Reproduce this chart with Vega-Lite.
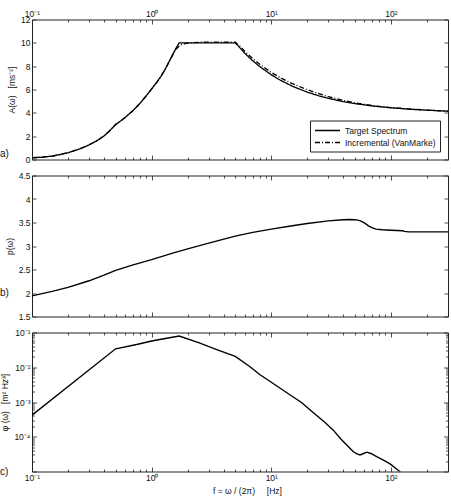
{
  "$schema": "https://vega.github.io/schema/vega-lite/v6.json",
  "padding": {"left": 0, "top": 9.5, "right": 3, "bottom": 1},
  "spacing": 16,
  "bounds": "flush",
  "config": {
    "view": {"stroke": null},
    "font": "Liberation Sans",
    "axis": {
      "labelFont": "Liberation Sans",
      "labelFontSize": 8.5,
      "labelColor": "#111",
      "titleFont": "Liberation Sans",
      "titleFontSize": 8.5,
      "titleFontWeight": "normal",
      "titleColor": "#111",
      "domainColor": "#222",
      "domainWidth": 1,
      "tickColor": "#222",
      "tickWidth": 0.8,
      "grid": false,
      "labelFlush": false,
      "titlePadding": 4
    }
  },
  "resolve": {
    "scale": {"strokeDash": "independent"},
    "legend": {"strokeDash": "independent"}
  },
  "datasets": {
    "accel": [
      {"f": 0.1, "A": 0.15, "series": "Target Spectrum"},
      {"f": 0.12, "A": 0.19, "series": "Target Spectrum"},
      {"f": 0.15, "A": 0.3, "series": "Target Spectrum"},
      {"f": 0.2, "A": 0.58, "series": "Target Spectrum"},
      {"f": 0.25, "A": 0.9, "series": "Target Spectrum"},
      {"f": 0.3, "A": 1.25, "series": "Target Spectrum"},
      {"f": 0.35, "A": 1.62, "series": "Target Spectrum"},
      {"f": 0.4, "A": 2.02, "series": "Target Spectrum"},
      {"f": 0.45, "A": 2.5, "series": "Target Spectrum"},
      {"f": 0.5, "A": 3.0, "series": "Target Spectrum"},
      {"f": 0.55, "A": 3.3, "series": "Target Spectrum"},
      {"f": 0.6, "A": 3.6, "series": "Target Spectrum"},
      {"f": 0.7, "A": 4.2, "series": "Target Spectrum"},
      {"f": 0.8, "A": 4.82, "series": "Target Spectrum"},
      {"f": 0.9, "A": 5.45, "series": "Target Spectrum"},
      {"f": 1.0, "A": 6.05, "series": "Target Spectrum"},
      {"f": 1.1, "A": 6.6, "series": "Target Spectrum"},
      {"f": 1.2, "A": 7.15, "series": "Target Spectrum"},
      {"f": 1.3, "A": 7.75, "series": "Target Spectrum"},
      {"f": 1.4, "A": 8.4, "series": "Target Spectrum"},
      {"f": 1.5, "A": 9.0, "series": "Target Spectrum"},
      {"f": 1.6, "A": 9.55, "series": "Target Spectrum"},
      {"f": 1.7, "A": 10.0, "series": "Target Spectrum"},
      {"f": 5.0, "A": 10.0, "series": "Target Spectrum"},
      {"f": 5.5, "A": 9.55, "series": "Target Spectrum"},
      {"f": 6, "A": 9.11, "series": "Target Spectrum"},
      {"f": 7, "A": 8.46, "series": "Target Spectrum"},
      {"f": 8, "A": 7.97, "series": "Target Spectrum"},
      {"f": 10, "A": 7.26, "series": "Target Spectrum"},
      {"f": 12, "A": 6.78, "series": "Target Spectrum"},
      {"f": 15, "A": 6.28, "series": "Target Spectrum"},
      {"f": 20, "A": 5.77, "series": "Target Spectrum"},
      {"f": 25, "A": 5.46, "series": "Target Spectrum"},
      {"f": 30, "A": 5.24, "series": "Target Spectrum"},
      {"f": 40, "A": 4.96, "series": "Target Spectrum"},
      {"f": 50, "A": 4.79, "series": "Target Spectrum"},
      {"f": 70, "A": 4.59, "series": "Target Spectrum"},
      {"f": 100, "A": 4.43, "series": "Target Spectrum"},
      {"f": 150, "A": 4.3, "series": "Target Spectrum"},
      {"f": 200, "A": 4.23, "series": "Target Spectrum"},
      {"f": 300, "A": 4.14, "series": "Target Spectrum"},
      {"f": 0.1, "A": 0.15, "series": "Incremental (VanMarke)"},
      {"f": 0.12, "A": 0.19, "series": "Incremental (VanMarke)"},
      {"f": 0.15, "A": 0.3, "series": "Incremental (VanMarke)"},
      {"f": 0.2, "A": 0.58, "series": "Incremental (VanMarke)"},
      {"f": 0.25, "A": 0.9, "series": "Incremental (VanMarke)"},
      {"f": 0.3, "A": 1.25, "series": "Incremental (VanMarke)"},
      {"f": 0.35, "A": 1.62, "series": "Incremental (VanMarke)"},
      {"f": 0.4, "A": 2.02, "series": "Incremental (VanMarke)"},
      {"f": 0.45, "A": 2.5, "series": "Incremental (VanMarke)"},
      {"f": 0.5, "A": 3.0, "series": "Incremental (VanMarke)"},
      {"f": 0.55, "A": 3.3, "series": "Incremental (VanMarke)"},
      {"f": 0.6, "A": 3.6, "series": "Incremental (VanMarke)"},
      {"f": 0.7, "A": 4.2, "series": "Incremental (VanMarke)"},
      {"f": 0.8, "A": 4.82, "series": "Incremental (VanMarke)"},
      {"f": 0.9, "A": 5.45, "series": "Incremental (VanMarke)"},
      {"f": 1.0, "A": 6.05, "series": "Incremental (VanMarke)"},
      {"f": 1.1, "A": 6.6, "series": "Incremental (VanMarke)"},
      {"f": 1.2, "A": 7.15, "series": "Incremental (VanMarke)"},
      {"f": 1.3, "A": 7.75, "series": "Incremental (VanMarke)"},
      {"f": 1.4, "A": 8.38, "series": "Incremental (VanMarke)"},
      {"f": 1.5, "A": 8.95, "series": "Incremental (VanMarke)"},
      {"f": 1.6, "A": 9.45, "series": "Incremental (VanMarke)"},
      {"f": 1.7, "A": 9.72, "series": "Incremental (VanMarke)"},
      {"f": 1.8, "A": 9.88, "series": "Incremental (VanMarke)"},
      {"f": 2.0, "A": 9.98, "series": "Incremental (VanMarke)"},
      {"f": 2.5, "A": 10.05, "series": "Incremental (VanMarke)"},
      {"f": 3.0, "A": 10.06, "series": "Incremental (VanMarke)"},
      {"f": 4.0, "A": 10.05, "series": "Incremental (VanMarke)"},
      {"f": 5.0, "A": 10.05, "series": "Incremental (VanMarke)"},
      {"f": 5.5, "A": 9.7, "series": "Incremental (VanMarke)"},
      {"f": 6, "A": 9.28, "series": "Incremental (VanMarke)"},
      {"f": 7, "A": 8.65, "series": "Incremental (VanMarke)"},
      {"f": 8, "A": 8.17, "series": "Incremental (VanMarke)"},
      {"f": 10, "A": 7.46, "series": "Incremental (VanMarke)"},
      {"f": 12, "A": 6.99, "series": "Incremental (VanMarke)"},
      {"f": 15, "A": 6.5, "series": "Incremental (VanMarke)"},
      {"f": 20, "A": 5.98, "series": "Incremental (VanMarke)"},
      {"f": 25, "A": 5.64, "series": "Incremental (VanMarke)"},
      {"f": 30, "A": 5.38, "series": "Incremental (VanMarke)"},
      {"f": 40, "A": 5.06, "series": "Incremental (VanMarke)"},
      {"f": 50, "A": 4.86, "series": "Incremental (VanMarke)"},
      {"f": 70, "A": 4.62, "series": "Incremental (VanMarke)"},
      {"f": 100, "A": 4.45, "series": "Incremental (VanMarke)"},
      {"f": 150, "A": 4.31, "series": "Incremental (VanMarke)"},
      {"f": 200, "A": 4.24, "series": "Incremental (VanMarke)"},
      {"f": 300, "A": 4.14, "series": "Incremental (VanMarke)"}
    ],
    "peak": [
      {"f": 0.1, "p": 1.94},
      {"f": 0.15, "p": 2.04},
      {"f": 0.2, "p": 2.12},
      {"f": 0.3, "p": 2.26},
      {"f": 0.4, "p": 2.38},
      {"f": 0.5, "p": 2.48},
      {"f": 0.7, "p": 2.6},
      {"f": 1, "p": 2.71},
      {"f": 1.5, "p": 2.85},
      {"f": 2, "p": 2.94},
      {"f": 3, "p": 3.06},
      {"f": 5, "p": 3.21},
      {"f": 7, "p": 3.29},
      {"f": 10, "p": 3.36},
      {"f": 15, "p": 3.43},
      {"f": 20, "p": 3.48},
      {"f": 30, "p": 3.535},
      {"f": 40, "p": 3.56},
      {"f": 45, "p": 3.565},
      {"f": 50, "p": 3.56},
      {"f": 55, "p": 3.54},
      {"f": 60, "p": 3.49},
      {"f": 65, "p": 3.43},
      {"f": 70, "p": 3.385},
      {"f": 75, "p": 3.36},
      {"f": 85, "p": 3.345},
      {"f": 100, "p": 3.335},
      {"f": 125, "p": 3.325},
      {"f": 130, "p": 3.31},
      {"f": 140, "p": 3.3},
      {"f": 300, "p": 3.3}
    ],
    "psd": [
      {"f": 0.1, "phi": 0.00042},
      {"f": 0.5, "phi": 0.034},
      {"f": 0.75, "phi": 0.045},
      {"f": 1.0, "phi": 0.057},
      {"f": 1.3, "phi": 0.067},
      {"f": 1.7, "phi": 0.079},
      {"f": 2.5, "phi": 0.05},
      {"f": 3.5, "phi": 0.032},
      {"f": 5, "phi": 0.0205},
      {"f": 6.6, "phi": 0.0105},
      {"f": 8, "phi": 0.0062},
      {"f": 10, "phi": 0.0037},
      {"f": 14, "phi": 0.0017},
      {"f": 18, "phi": 0.00095},
      {"f": 22.5, "phi": 0.00049},
      {"f": 28, "phi": 0.00026},
      {"f": 33, "phi": 0.000155},
      {"f": 38, "phi": 0.000088},
      {"f": 42.7, "phi": 0.000058},
      {"f": 48.6, "phi": 0.000037},
      {"f": 52, "phi": 0.000032},
      {"f": 55.2, "phi": 0.00003},
      {"f": 59, "phi": 0.000033},
      {"f": 62.8, "phi": 0.000036},
      {"f": 68, "phi": 0.000033},
      {"f": 76, "phi": 0.000027},
      {"f": 85, "phi": 0.000022},
      {"f": 98.5, "phi": 0.0000165},
      {"f": 115.6, "phi": 0.0000107},
      {"f": 125, "phi": 0.0000085}
    ]
  },
  "vconcat": [
    {
      "width": 416,
      "height": 140,
      "resolve": {"axis": {"x": "independent", "y": "independent"}},
      "layer": [
        {
          "data": {"name": "accel"},
          "mark": {"type": "line", "color": "black", "strokeWidth": 1.3},
          "encoding": {
            "x": {
              "field": "f", "type": "quantitative",
              "scale": {"type": "log", "domain": [0.1, 300], "nice": false},
              "axis": {
                "orient": "top", "title": null,
                "values": [0.1,0.2,0.3,0.4,0.5,0.6,0.7,0.8,0.9,1,2,3,4,5,6,7,8,9,10,20,30,40,50,60,70,80,90,100,200,300],
                "labelExpr": "datum.value == 0.1 ? '10⁻¹' : datum.value == 1 ? '10⁰' : datum.value == 10 ? '10¹' : datum.value == 100 ? '10²' : ''",
                "tickSize": {"condition": {"test": "indexof([0.1,1,10,100], datum.value) >= 0", "value": -4.5}, "value": -2.5},
                "labelPadding": 5.5
              }
            },
            "y": {
              "field": "A", "type": "quantitative",
              "scale": {"domain": [0, 12], "nice": false},
              "axis": {"orient": "left", "title": "A(ω)\u00a0\u00a0\u00a0[ms⁻²]", "values": [0,2,4,6,8,10,12], "format": "~g", "tickSize": -4, "labelPadding": 6}
            },
            "strokeDash": {
              "field": "series", "type": "nominal",
              "scale": {"domain": ["Target Spectrum", "Incremental (VanMarke)"], "range": [[1, 0], [5, 2, 1, 2]]},
              "legend": {
                "title": null, "orient": "bottom-right", "offset": 8,
                "strokeColor": "#222", "fillColor": "white", "padding": 4,
                "labelFont": "Liberation Sans", "labelFontSize": 8.5, "labelColor": "#111",
                "symbolType": "M-1,0H4", "symbolSize": 100, "symbolStrokeWidth": 1.3,
                "symbolStrokeColor": "black", "rowPadding": 1, "labelOffset": 19
              }
            }
          }
        },
        {
          "data": {"name": "accel"},
          "mark": {"type": "line", "opacity": 0},
          "encoding": {
            "x": {
              "field": "f", "type": "quantitative",
              "scale": {"type": "log", "domain": [0.1, 300], "nice": false},
              "axis": {
                "orient": "bottom", "title": null, "labels": false,
                "values": [0.1,0.2,0.3,0.4,0.5,0.6,0.7,0.8,0.9,1,2,3,4,5,6,7,8,9,10,20,30,40,50,60,70,80,90,100,200,300],
                "tickSize": {"condition": {"test": "indexof([0.1,1,10,100], datum.value) >= 0", "value": -4.5}, "value": -2.5}
              }
            },
            "y": {
              "field": "A", "type": "quantitative",
              "scale": {"domain": [0, 12], "nice": false},
              "axis": {"orient": "right", "title": null, "labels": false, "values": [0,2,4,6,8,10,12], "tickSize": -4}
            }
          }
        },
        {
          "data": {"values": [{"tag": "a)"}]},
          "mark": {"type": "text", "align": "left", "baseline": "middle", "dx": -32, "fontSize": 10, "font": "Liberation Sans", "color": "#111"},
          "encoding": {
            "x": {"datum": 0.1, "axis": null},
            "y": {"datum": 0.5, "axis": null},
            "text": {"field": "tag"}
          }
        }
      ]
    },
    {
      "width": 416,
      "height": 141,
      "resolve": {"axis": {"x": "independent", "y": "independent"}},
      "layer": [
        {
          "data": {"name": "peak"},
          "mark": {"type": "line", "color": "black", "strokeWidth": 1.4},
          "encoding": {
            "x": {
              "field": "f", "type": "quantitative",
              "scale": {"type": "log", "domain": [0.1, 300], "nice": false},
              "axis": {
                "orient": "bottom", "title": null, "labels": false,
                "values": [0.1,0.2,0.3,0.4,0.5,0.6,0.7,0.8,0.9,1,2,3,4,5,6,7,8,9,10,20,30,40,50,60,70,80,90,100,200,300],
                "tickSize": {"condition": {"test": "indexof([0.1,1,10,100], datum.value) >= 0", "value": -4.5}, "value": -2.5}
              }
            },
            "y": {
              "field": "p", "type": "quantitative",
              "scale": {"domain": [1.5, 4.5], "nice": false},
              "axis": {"orient": "left", "title": "p(ω)", "values": [1.5,2,2.5,3,3.5,4,4.5], "format": "~g", "tickSize": -4, "labelPadding": 6}
            }
          }
        },
        {
          "data": {"name": "peak"},
          "mark": {"type": "line", "opacity": 0},
          "encoding": {
            "x": {
              "field": "f", "type": "quantitative",
              "scale": {"type": "log", "domain": [0.1, 300], "nice": false},
              "axis": {
                "orient": "top", "title": null, "labels": false,
                "values": [0.1,0.2,0.3,0.4,0.5,0.6,0.7,0.8,0.9,1,2,3,4,5,6,7,8,9,10,20,30,40,50,60,70,80,90,100,200,300],
                "tickSize": {"condition": {"test": "indexof([0.1,1,10,100], datum.value) >= 0", "value": -4.5}, "value": -2.5}
              }
            },
            "y": {
              "field": "p", "type": "quantitative",
              "scale": {"domain": [1.5, 4.5], "nice": false},
              "axis": {"orient": "right", "title": null, "labels": false, "values": [1.5,2,2.5,3,3.5,4,4.5], "tickSize": -4}
            }
          }
        },
        {
          "data": {"values": [{"tag": "b)"}]},
          "mark": {"type": "text", "align": "left", "baseline": "middle", "dx": -32, "fontSize": 10, "font": "Liberation Sans", "color": "#111"},
          "encoding": {
            "x": {"datum": 0.1, "axis": null},
            "y": {"datum": 2.0, "axis": null},
            "text": {"field": "tag"}
          }
        }
      ]
    },
    {
      "width": 416,
      "height": 139,
      "resolve": {"axis": {"x": "independent", "y": "independent"}},
      "layer": [
        {
          "data": {"name": "psd"},
          "mark": {"type": "line", "color": "black", "strokeWidth": 1.4, "clip": true},
          "encoding": {
            "x": {
              "field": "f", "type": "quantitative",
              "scale": {"type": "log", "domain": [0.1, 300], "nice": false},
              "axis": {
                "orient": "bottom", "title": "f = ω / (2π)\u00a0\u00a0\u00a0\u00a0 [Hz]",
                "titleX": 215,
                "values": [0.1,0.2,0.3,0.4,0.5,0.6,0.7,0.8,0.9,1,2,3,4,5,6,7,8,9,10,20,30,40,50,60,70,80,90,100,200,300],
                "labelExpr": "datum.value == 0.1 ? '10⁻¹' : datum.value == 1 ? '10⁰' : datum.value == 10 ? '10¹' : datum.value == 100 ? '10²' : ''",
                "tickSize": {"condition": {"test": "indexof([0.1,1,10,100], datum.value) >= 0", "value": -4.5}, "value": -2.5},
                "labelPadding": 6.5,
                "titlePadding": 4
              }
            },
            "y": {
              "field": "phi", "type": "quantitative",
              "scale": {"type": "log", "domain": [0.00001, 0.1], "nice": false},
              "axis": {
                "orient": "left", "title": "φ (ω)\u00a0\u00a0\u00a0[m² Hz³]",
                "values": [0.00001,0.00002,0.00003,0.00004,0.00005,0.00006,0.00007,0.00008,0.00009,0.0001,0.0002,0.0003,0.0004,0.0005,0.0006,0.0007,0.0008,0.0009,0.001,0.002,0.003,0.004,0.005,0.006,0.007,0.008,0.009,0.01,0.02,0.03,0.04,0.05,0.06,0.07,0.08,0.09,0.1],
                "labelExpr": "datum.value == 0.1 ? '10⁻¹' : datum.value == 0.01 ? '10⁻²' : datum.value == 0.001 ? '10⁻³' : datum.value == 0.0001 ? '10⁻⁴' : ''",
                "tickSize": {"condition": {"test": "indexof([0.00001,0.0001,0.001,0.01,0.1], datum.value) >= 0", "value": -4.5}, "value": -2.5},
                "labelPadding": 6.5
              }
            }
          }
        },
        {
          "data": {"name": "psd"},
          "mark": {"type": "line", "opacity": 0},
          "encoding": {
            "x": {
              "field": "f", "type": "quantitative",
              "scale": {"type": "log", "domain": [0.1, 300], "nice": false},
              "axis": {
                "orient": "top", "title": null, "labels": false,
                "values": [0.1,0.2,0.3,0.4,0.5,0.6,0.7,0.8,0.9,1,2,3,4,5,6,7,8,9,10,20,30,40,50,60,70,80,90,100,200,300],
                "tickSize": {"condition": {"test": "indexof([0.1,1,10,100], datum.value) >= 0", "value": -4.5}, "value": -2.5}
              }
            },
            "y": {
              "field": "phi", "type": "quantitative",
              "scale": {"type": "log", "domain": [0.00001, 0.1], "nice": false},
              "axis": {
                "orient": "right", "title": null, "labels": false,
                "values": [0.00001,0.00002,0.00003,0.00004,0.00005,0.00006,0.00007,0.00008,0.00009,0.0001,0.0002,0.0003,0.0004,0.0005,0.0006,0.0007,0.0008,0.0009,0.001,0.002,0.003,0.004,0.005,0.006,0.007,0.008,0.009,0.01,0.02,0.03,0.04,0.05,0.06,0.07,0.08,0.09,0.1],
                "tickSize": {"condition": {"test": "indexof([0.00001,0.0001,0.001,0.01,0.1], datum.value) >= 0", "value": -4.5}, "value": -2.5}
              }
            }
          }
        },
        {
          "data": {"values": [{"tag": "c)"}]},
          "mark": {"type": "text", "align": "left", "baseline": "middle", "dx": -32, "fontSize": 10, "font": "Liberation Sans", "color": "#111"},
          "encoding": {
            "x": {"datum": 0.1, "axis": null},
            "y": {"datum": 0.00001, "axis": null},
            "text": {"field": "tag"}
          }
        }
      ]
    }
  ]
}
